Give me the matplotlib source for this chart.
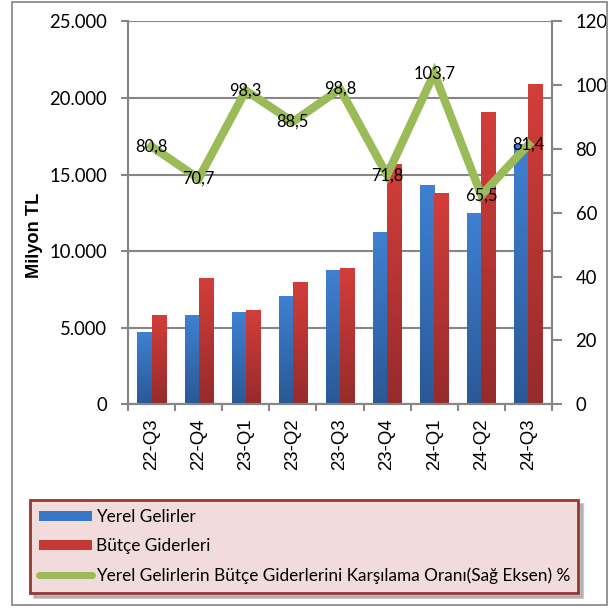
import numpy as np
import matplotlib
matplotlib.use("Agg")
import matplotlib.pyplot as plt
from matplotlib.patches import Patch, Rectangle
from matplotlib.lines import Line2D
from matplotlib.colors import LinearSegmentedColormap
from matplotlib.ticker import FuncFormatter, FixedLocator

plt.rcParams['font.family'] = ['Lato', 'DejaVu Sans']

categories = ["22-Q3", "22-Q4", "23-Q1", "23-Q2", "23-Q3", "23-Q4", "24-Q1", "24-Q2", "24-Q3"]
yerel_gelirler = [4720, 5830, 6030, 7070, 8770, 11250, 14320, 12490, 17000]
butce_giderleri = [5830, 8250, 6160, 7990, 8900, 15690, 13800, 19080, 20890]
oran = [80.8, 70.7, 98.3, 88.5, 98.8, 71.8, 103.7, 65.5, 81.4]
oran_labels = ["80,8", "70,7", "98,3", "88,5", "98,8", "71,8", "103,7", "65,5", "81,4"]
series_names = ["Yerel Gelirler", "Bütçe Giderleri",
                "Yerel Gelirlerin Bütçe Giderlerini Karşılama Oranı(Sağ Eksen) %"]

W, H = 612, 608
fig = plt.figure(figsize=(W / 100, H / 100), dpi=100)
renderer = fig.canvas.get_renderer()


def fit(text, target_px, family=('Lato', 'DejaVu Sans'), weight='normal'):
    t = fig.text(0, 0, text, fontsize=10, family=list(family), weight=weight)
    w = t.get_window_extent(renderer).width
    t.remove()
    return 10 * target_px / w


fs_tick = fit("10.000", 58)
fs_lab = fit("103,7", 42)
fs_leg = fit(series_names[2], 472)
fs_ylab = fit("Milyon TL", 85, family=('Liberation Sans',), weight='bold')
fs_x = fit("22-Q3", 52, family=('Liberation Sans',))

# outer frame
fig.patches.append(Rectangle((12 / W, 1 - 605 / H), 595 / W, 603 / H, transform=fig.transFigure,
                             fill=False, edgecolor='#8c8c8c', lw=1.3))

ax = fig.add_axes([128 / W, 1 - 404.3 / H, 424 / W, 383 / H])
ax2 = ax.twinx()

gray = '#868686'
x = np.arange(len(categories))
bw = 0.3

blue_cmap = LinearSegmentedColormap.from_list('b', ['#2a5896', '#3f81d2'])
red_cmap = LinearSegmentedColormap.from_list('r', ['#962b2b', '#d33e3a'])

b1 = ax.bar(x - bw / 2, yerel_gelirler, bw, color='#3470bb', zorder=2)
b2 = ax.bar(x + bw / 2, butce_giderleri, bw, color='#bd3633', zorder=2)
grad = np.linspace(0, 1, 256).reshape(-1, 1)
for bars, cmap in ((b1, blue_cmap), (b2, red_cmap)):
    for p in bars:
        x0 = p.get_x()
        w, h = p.get_width(), p.get_height()
        im = ax.imshow(grad, cmap=cmap, extent=(x0, x0 + w, 0, h), origin='lower',
                       aspect='auto', zorder=2.1)
        im.set_clip_path(p)

ax.set_xlim(-0.5, len(categories) - 0.5)
ax.set_ylim(0, 25000)
ax.set_yticks(np.arange(0, 25001, 5000))
ax.yaxis.set_major_formatter(FuncFormatter(lambda v, p: f"{int(v):,}".replace(",", ".")))
ax.grid(axis='y', color=gray, lw=1.5, zorder=0)
ax.set_axisbelow(True)

ax.set_xticks(x)
ax.set_xticklabels(categories, rotation=90, family=['Liberation Sans'], fontsize=fs_x)
ax.xaxis.set_minor_locator(FixedLocator(np.arange(-0.5, len(categories), 1)))
ax.tick_params(axis='x', which='major', length=0, pad=10)
ax.tick_params(axis='x', which='minor', length=5, color=gray, width=1.5)
ax.tick_params(axis='y', length=5, color=gray, width=1.5, labelsize=fs_tick, pad=10)

ax.set_ylabel("Milyon TL", family=['Liberation Sans'], fontweight='bold', fontsize=fs_ylab)

for a in (ax, ax2):
    a.spines['top'].set_visible(False)
    for s in ('left', 'right', 'bottom'):
        a.spines[s].set_color(gray)
        a.spines[s].set_linewidth(1.5)

ax2.plot(x, oran, color='#9bbb59', lw=6, solid_joinstyle='miter', zorder=3)
ax2.set_ylim(0, 120)
ax2.set_yticks(np.arange(0, 121, 20))
ax2.tick_params(axis='y', length=7, color=gray, width=1.5, labelsize=fs_tick, pad=10)
for xi, v, lab in zip(x, oran, oran_labels):
    ax2.text(xi, v, lab, ha='center', va='center', fontsize=fs_lab, zorder=4)

# y label: text spans x 28..42, centred near y=235
ax.yaxis.set_label_coords((43 - 128) / 424, (404.3 - 235.5) / 383)

handles = [Patch(facecolor='#3677c6', edgecolor='none'),
           Patch(facecolor='#c43835', edgecolor='none'),
           Line2D([], [], color='#9bbb59', lw=5, solid_capstyle='round')]
fs_px = fs_leg * 100 / 72
leg = fig.legend(handles, series_names, loc='upper left',
                 bbox_to_anchor=(30 / W, 1 - 589 / H, 548 / W, 89 / H), mode='expand',
                 borderaxespad=0, fontsize=fs_leg, frameon=True, fancybox=False,
                 facecolor='#f2dcdb', edgecolor='#953735', framealpha=1,
                 handlelength=53 / fs_px, handleheight=9 / fs_px, handletextpad=4 / fs_px,
                 labelspacing=0.75, borderpad=0.55,
                 shadow={'ox': 3, 'oy': -3, 'color': '#999999', 'alpha': 0.6})
leg.get_frame().set_linewidth(2)

fig.savefig("out.png", dpi=100)
